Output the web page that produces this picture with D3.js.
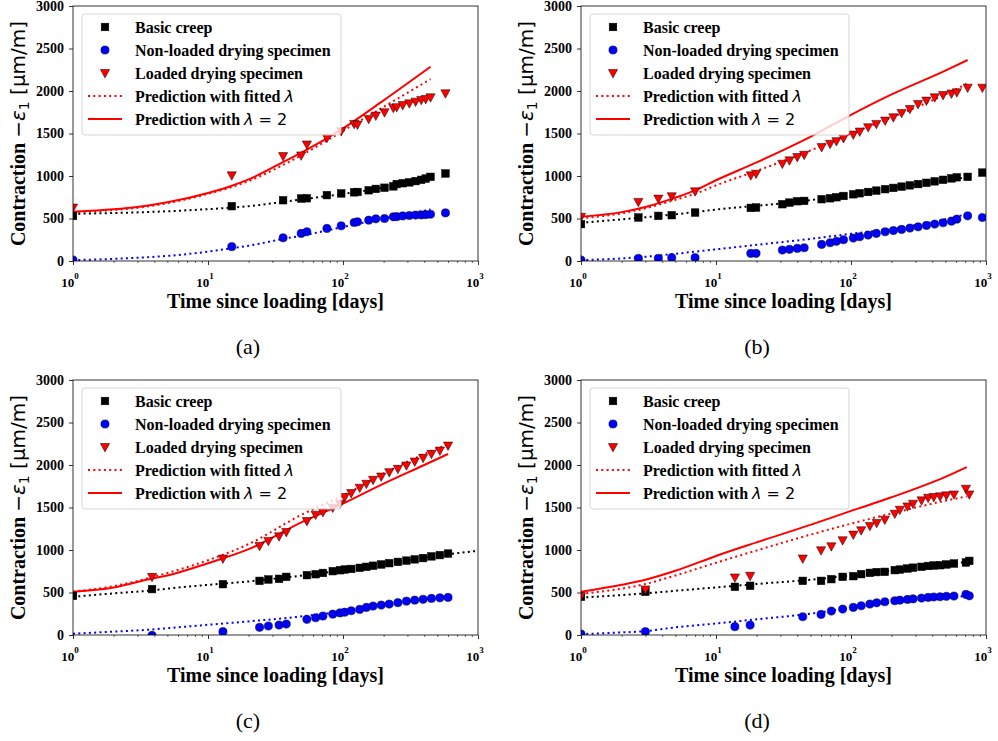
<!DOCTYPE html>
<html>
<head>
<meta charset="utf-8">
<script src="https://cdn.jsdelivr.net/npm/d3@7"></script>
<style>
  body { margin: 0; background: #fff; }
  svg { display: block; }
</style>
</head>
<body>
<script>
// ---- panel (a) ----
var tA = [1, 15, 36, 49, 54, 76, 97, 121, 128, 155, 175, 203, 236, 250, 277, 310, 345, 380, 410, 445, 574];
var basicA = [530, 645, 715, 735, 738, 775, 795, 808, 812, 832, 848, 862, 878, 905, 915, 925, 940, 955, 970, 990, 1030];
var dryA = [12, 168, 273, 324, 344, 383, 414, 453, 461, 480, 496, 500, 520, 522, 530, 535, 540, 542, 545, 550, 566];
var loadA = [629, 1008, 1234, 1242, 1371, 1449, 1527, 1613, 1605, 1672, 1711, 1750, 1801, 1810, 1835, 1855, 1875, 1895, 1906, 1926, 1973];
var curveTA = [1, 2, 3, 5, 10, 15, 20, 36, 50, 100, 200, 445];
var fitBasicA = [555, 565, 572, 585, 610, 628, 645, 695, 725, 790, 865, 1000];
var fitDryA = [10, 25, 38, 60, 110, 150, 180, 260, 300, 400, 500, 605];
var fitLoadA = [575, 600, 625, 680, 790, 870, 940, 1130, 1250, 1530, 1813, 2140];
var lam2A = [580, 608, 635, 690, 800, 885, 960, 1164, 1280, 1560, 1890, 2285];

// ---- panel (b) ----
var tB = [1, 2.66, 3.74, 4.7, 7.0, 18.1, 19.8, 31, 35, 40, 45, 60.6, 70, 78, 88, 104, 116, 134, 154, 179, 206, 237, 273, 314, 362, 417, 481, 555, 608, 731, 940];
var basicB = [434, 512, 531, 539, 570, 625, 629, 668, 687, 703, 707, 727, 738, 750, 765, 785, 797, 812, 828, 845, 860, 875, 890, 905, 920, 937, 955, 972, 985, 990, 1040];
var dryB = [12, 31, 31, 39, 39, 90, 90, 129, 137, 148, 156, 195, 215, 232, 250, 270, 285, 305, 325, 344, 358, 371, 387, 402, 418, 434, 450, 469, 492, 531, 512];
var loadB = [520, 695, 734, 762, 820, 1008, 1027, 1145, 1184, 1223, 1250, 1340, 1379, 1410, 1445, 1488, 1523, 1574, 1613, 1652, 1691, 1742, 1789, 1848, 1887, 1926, 1953, 1970, 1985, 2039, 2039];
var curveTB = [1, 2, 3, 5, 7, 10, 20, 50, 100, 200, 500, 731];
var fitBasicB = [450, 490, 515, 550, 575, 605, 650, 715, 785, 860, 950, 985];
var fitDryB = [10, 30, 50, 85, 110, 137, 190, 260, 320, 380, 490, 555];
var fitLoadB = [505, 560, 620, 720, 790, 890, 1060, 1300, 1500, 1690, 1960, 2090];
var lam2B = [520, 575, 635, 745, 830, 950, 1160, 1460, 1720, 1960, 2240, 2365];

// ---- panel (c) ----
var tC = [1, 3.85, 12.9, 24.1, 28, 33.6, 38, 54, 62.7, 71, 84, 95, 103, 115, 133, 149, 167, 192, 220, 255, 295, 340, 392, 452, 522, 600];
var basicC = [461, 540, 598, 637, 653, 661, 684, 704, 715, 730, 751, 762, 770, 777, 790, 802, 815, 830, 845, 860, 875, 890, 905, 925, 940, 958];
var dryC = [null, -5, 39, 90, 106, 117, 129, 184, 203, 223, 245, 260, 268, 285, 301, 325, 340, 352, 364, 380, 398, 410, 420, 430, 437, 442];
var loadC = [null, 684, 900, 1048, 1107, 1161, 1212, 1341, 1416, 1447, 1498, 1545, 1623, 1670, 1733, 1779, 1826, 1865, 1916, 1955, 1995, 2041, 2084, 2131, 2170, 2229];
var curveTC = [1, 2, 3.85, 5, 10, 20, 50, 100, 200, 400, 600, 1000];
var fitBasicC = [450, 490, 525, 545, 590, 630, 700, 760, 830, 910, 950, 990];
var fitDryC = [15, 40, 65, 80, 120, 160, 220, 280, 360, 420, 450, null];
var fitLoadC = [510, 575, 680, 730, 880, 1070, 1420, 1640, 1900, 2130, 2240, null];
var lam2C = [508, 560, 665, 700, 845, 1010, 1330, 1545, 1780, 2000, 2130, null];

// ---- panel (d) ----
var tD = [1, 3, 13.8, 17.9, 43.9, 60, 71.5, 86.7, 104, 119, 138, 155, 178, 211, 230, 262, 288, 333, 373, 410, 457, 509, 579, 710, 752];
var basicD = [450, 508, 567, 579, 637, 637, 657, 684, 692, 716, 731, 740, 743, 763, 770, 782, 792, 802, 812, 818, 821, 830, 841, 853, 872];
var dryD = [12, 39, 98, 117, 215, 242, 282, 305, 325, 344, 364, 379, 391, 403, 410, 418, 425, 434, 442, 447, 450, 455, 458, 477, 461];
var loadD = [457, 536, 677, 696, 900, 997, 1044, 1115, 1181, 1232, 1283, 1318, 1357, 1427, 1474, 1513, 1545, 1584, 1615, 1623, 1631, 1643, 1654, 1721, 1654];
var curveTD = [1, 2, 3, 5, 10, 20, 50, 100, 200, 500, 720];
var fitBasicD = [440, 470, 490, 520, 560, 600, 650, 700, 760, 830, 860];
var fitDryD = [10, 30, 45, 90, 135, 185, 250, 320, 380, 440, 460];
var fitLoadD = [485, 545, 600, 700, 850, 995, 1180, 1310, 1430, 1580, 1630];
var lam2D = [508, 590, 650, 755, 930, 1090, 1295, 1460, 1620, 1860, 1975];

var yTicks = [0, 500, 1000, 1500, 2000, 2500, 3000];
var xTicks = [1, 10, 100, 1000];
var xTickExp = ['0', '1', '2', '3'];
var legendLabels = ['Basic creep', 'Non-loaded drying specimen', 'Loaded drying specimen', 'Prediction with fitted ', 'Prediction with '];
var captions = ['(a)', '(b)', '(c)', '(d)'];

var panels = [
  {t: tA, basic: basicA, dry: dryA, load: loadA, ct: curveTA, fb: fitBasicA, fd: fitDryA, fl: fitLoadA, l2: lam2A, left: 73, top: 6, capX: 248, capY: 354},
  {t: tB, basic: basicB, dry: dryB, load: loadB, ct: curveTB, fb: fitBasicB, fd: fitDryB, fl: fitLoadB, l2: lam2B, left: 581, top: 6, capX: 757, capY: 354},
  {t: tC, basic: basicC, dry: dryC, load: loadC, ct: curveTC, fb: fitBasicC, fd: fitDryC, fl: fitLoadC, l2: lam2C, left: 73, top: 380, capX: 248, capY: 728},
  {t: tD, basic: basicD, dry: dryD, load: loadD, ct: curveTD, fb: fitBasicD, fd: fitDryD, fl: fitLoadD, l2: lam2D, left: 581, top: 380, capX: 757, capY: 728}
];

var pw = 405, ph = 255;
var serif = "'Liberation Serif', 'Times New Roman', serif";
var sans = "'DejaVu Sans', sans-serif";

var svg = d3.select("body").append("svg").attr("width", 998).attr("height", 741);

var x = d3.scaleLog().domain([1, 1000]).range([0, pw]);
var y = d3.scaleLinear().domain([0, 3000]).range([ph, 0]);

var minor = [];
[1, 10, 100].forEach(b => { for (var k = 2; k < 10; k++) minor.push(b * k); });

function drawSquare(g, cx, cy) {
  g.append("rect").attr("x", cx - 3.8).attr("y", cy - 3.8).attr("width", 7.6).attr("height", 7.6)
    .attr("fill", "black").attr("stroke", "black").attr("stroke-width", 0.5);
}
function drawCircle(g, cx, cy) {
  g.append("circle").attr("cx", cx).attr("cy", cy).attr("r", 4.1)
    .attr("fill", "blue").attr("stroke", "black").attr("stroke-width", 0.5);
}
function drawTri(g, cx, cy) {
  g.append("path").attr("d", "M" + (cx - 4.6) + "," + (cy - 3.5) + "L" + (cx + 4.6) + "," + (cy - 3.5) + "L" + cx + "," + (cy + 4.9) + "Z")
    .attr("fill", "red").attr("stroke", "black").attr("stroke-width", 0.5);
}

panels.forEach((p, pi) => {
  var g = svg.append("g").attr("transform", "translate(" + p.left + "," + p.top + ")");

  svg.append("clipPath").attr("id", "clip" + pi)
    .append("rect").attr("width", pw).attr("height", ph);

  var plot = g.append("g").attr("clip-path", "url(#clip" + pi + ")");

  function curve(vals, color, dash) {
    var pts = p.ct.map((t, i) => [t, vals[i]]);
    var line = d3.line().defined(d => d[1] != null).curve(d3.curveMonotoneX)
      .x(d => x(d[0])).y(d => y(d[1]));
    plot.append("path").attr("d", line(pts)).attr("fill", "none")
      .attr("stroke", color).attr("stroke-width", 2)
      .attr("stroke-dasharray", dash);
  }
  curve(p.fb, "black", "2,3.3");
  curve(p.fd, "blue", "2,3.3");
  curve(p.fl, "red", "2,3.3");
  curve(p.l2, "red", null);

  p.t.forEach((t, i) => { if (p.basic[i] != null) drawSquare(plot, x(t), y(p.basic[i])); });
  p.t.forEach((t, i) => { if (p.dry[i] != null) drawCircle(plot, x(t), y(p.dry[i])); });
  p.t.forEach((t, i) => { if (p.load[i] != null) drawTri(plot, x(t), y(p.load[i])); });

  // frame
  g.append("rect").attr("width", pw).attr("height", ph)
    .attr("fill", "none").attr("stroke", "black").attr("stroke-width", 0.8);

  // y axis
  var ya = g.append("g").call(d3.axisLeft(y).tickValues(yTicks).tickSize(4).tickPadding(5).tickFormat(d3.format("d")));
  ya.select(".domain").remove();
  ya.selectAll("line").attr("stroke-width", 0.8);
  ya.selectAll("text").attr("font-family", serif).attr("font-weight", "bold").attr("font-size", 14).attr("fill", "black");

  // x axis (log)
  var xa = g.append("g").attr("transform", "translate(0," + ph + ")")
    .call(d3.axisBottom(x).tickValues(xTicks).tickSize(4).tickFormat(""));
  xa.select(".domain").remove();
  xa.selectAll("line").attr("stroke-width", 0.8);
  var xm = g.append("g").attr("transform", "translate(0," + ph + ")")
    .call(d3.axisBottom(x).tickValues(minor).tickSize(2).tickFormat(""));
  xm.select(".domain").remove();
  xm.selectAll("line").attr("stroke-width", 0.6);

  xTicks.forEach((v, i) => {
    var tx = g.append("text").attr("x", x(v) - 3).attr("y", ph + 26)
      .attr("text-anchor", "middle").attr("font-family", serif).attr("font-weight", "bold").attr("font-size", 13);
    tx.append("tspan").text("10");
    tx.append("tspan").attr("dy", -8).attr("font-size", 9).text(xTickExp[i]);
  });

  // axis labels
  g.append("text").attr("x", pw / 2).attr("y", ph + 47).attr("text-anchor", "middle")
    .attr("font-family", serif).attr("font-weight", "bold").attr("font-size", 20)
    .text("Time since loading [days]");

  var yl = g.append("text").attr("transform", "translate(-48," + (ph / 2) + ") rotate(-90)")
    .attr("text-anchor", "middle").attr("font-size", 20);
  yl.append("tspan").attr("font-family", serif).attr("font-weight", "bold").text("Contraction ");
  yl.append("tspan").attr("font-family", sans).text("\u2212");
  yl.append("tspan").attr("font-family", sans).attr("font-style", "italic").text("\u03b5");
  yl.append("tspan").attr("font-family", sans).attr("font-size", 14).attr("dy", 4).text("1");
  yl.append("tspan").attr("font-family", sans).attr("dy", -4).text(" [\u00b5m/m]");

  // legend
  var lg = g.append("g").attr("transform", "translate(9,8)");
  lg.append("rect").attr("width", 259).attr("height", 121).attr("rx", 3)
    .attr("fill", "white").attr("fill-opacity", 0.8).attr("stroke", "#cccccc").attr("stroke-width", 0.8);
  legendLabels.forEach((lab, i) => {
    var cy = 13 + 23 * i;
    if (i === 0) drawSquare(lg, 23, cy);
    if (i === 1) drawCircle(lg, 23, cy);
    if (i === 2) drawTri(lg, 23, cy);
    if (i === 3) lg.append("line").attr("x1", 6).attr("x2", 40).attr("y1", cy).attr("y2", cy)
      .attr("stroke", "red").attr("stroke-width", 2).attr("stroke-dasharray", "2,3.3");
    if (i === 4) lg.append("line").attr("x1", 6).attr("x2", 40).attr("y1", cy).attr("y2", cy)
      .attr("stroke", "red").attr("stroke-width", 2);
    var tx = lg.append("text").attr("x", 53).attr("y", cy + 5.5)
      .attr("font-family", serif).attr("font-weight", "bold").attr("font-size", 16);
    tx.append("tspan").text(lab);
    if (i === 3) tx.append("tspan").attr("font-family", sans).attr("font-weight", "normal").attr("font-style", "italic").text("\u03bb");
    if (i === 4) {
      tx.append("tspan").attr("font-family", sans).attr("font-weight", "normal").attr("font-style", "italic").text("\u03bb");
      tx.append("tspan").attr("font-family", sans).attr("font-weight", "normal").text(" = 2");
    }
  });

  // caption
  svg.append("text").attr("x", p.capX).attr("y", p.capY).attr("text-anchor", "middle")
    .attr("font-family", serif).attr("font-size", 22).text(captions[pi]);
});
</script>
</body>
</html>
